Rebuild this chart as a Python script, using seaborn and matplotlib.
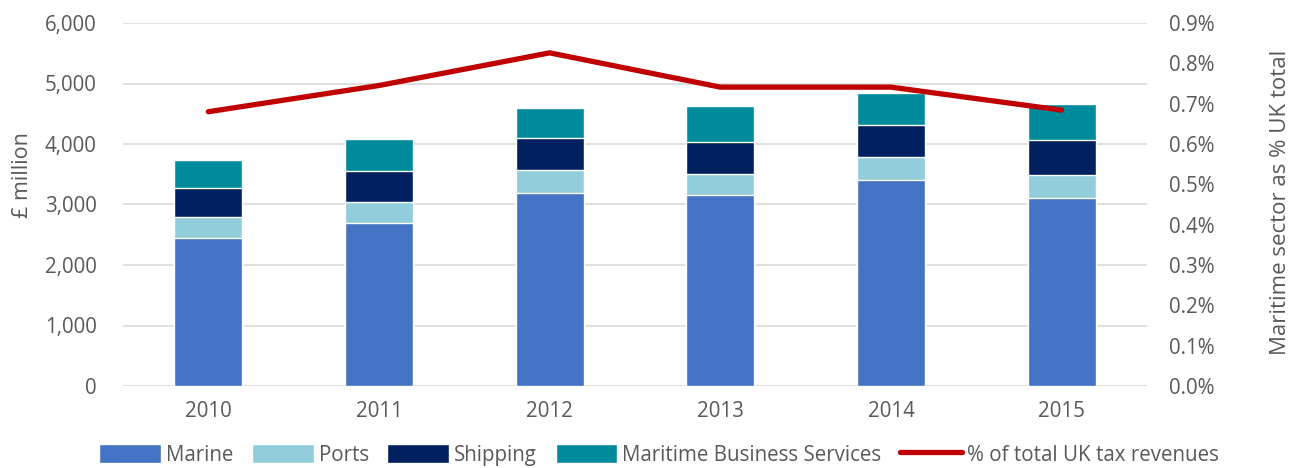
import numpy as np
import matplotlib
matplotlib.use('Agg')
import matplotlib.pyplot as plt
from matplotlib.patches import Patch
from matplotlib.lines import Line2D
from matplotlib.ticker import FuncFormatter, MultipleLocator
import pandas as pd
import seaborn as sns

years = ['2010', '2011', '2012', '2013', '2014', '2015']
marine = [2450, 2690, 3195, 3157, 3410, 3107]
ports = [350, 356, 370, 352, 380, 375]
shipping = [480, 508, 542, 529, 529, 589]
business = [453, 529, 488, 585, 524, 595]
pct_tax = [0.68, 0.745, 0.826, 0.741, 0.741, 0.684]

names = ['Marine', 'Ports', 'Shipping', 'Maritime Business Services']
colors = ['#4472C4', '#92CDDC', '#002060', '#008B9C']
line_color = '#C00000'
text_color = '#595959'
grid_color = '#D9D9D9'

sns.set_style('white')
plt.rcParams['font.family'] = ['Open Sans', 'DejaVu Sans']
plt.rcParams['text.color'] = text_color
plt.rcParams['axes.labelcolor'] = text_color
plt.rcParams['xtick.color'] = text_color
plt.rcParams['ytick.color'] = text_color

df = pd.DataFrame({'year': years, 'Marine': marine, 'Ports': ports,
                   'Shipping': shipping, 'Maritime Business Services': business})
cum = df[names].cumsum(axis=1)

fig = plt.figure(figsize=(12.97, 4.68), dpi=100)
ax = fig.add_axes([123 / 1297, 1 - 386 / 468, 1024 / 1297, 363 / 468])

# draw tallest cumulative first so each segment shows on top of the next
for name, col in reversed(list(zip(names, colors))):
    sns.barplot(x=df['year'], y=cum[name], color=col, width=0.4,
                saturation=1, ax=ax, zorder=2)

ax.set_ylim(0, 6000)
ax.set_xlim(-0.5, 5.5)
ax.yaxis.set_major_locator(MultipleLocator(1000))
ax.yaxis.set_major_formatter(FuncFormatter(lambda v, p: f'{v:,.0f}'))
ax.grid(axis='y', color=grid_color, linewidth=1.2, zorder=0)
ax.set_axisbelow(True)
for s in ax.spines.values():
    s.set_visible(False)
ax.tick_params(axis='y', length=0, pad=19, labelsize=14.8)
ax.tick_params(axis='x', length=0, pad=11, labelsize=14.8)
ax.set_xlabel('')
ax.set_ylabel('£ million', fontsize=15.5)
ax.yaxis.set_label_coords(-0.088, 0.58)

ax2 = ax.twinx()
sns.lineplot(x=np.arange(len(years)), y=pct_tax, color=line_color,
             linewidth=3.8, ax=ax2, solid_capstyle='round')
ax2.set_ylim(0, 0.9)
ax2.set_xlim(-0.5, 5.5)
ax2.yaxis.set_major_locator(MultipleLocator(0.1))
ax2.yaxis.set_major_formatter(FuncFormatter(lambda v, p: f'{v:.1f}%'))
for s in ax2.spines.values():
    s.set_visible(False)
ax2.tick_params(axis='y', length=0, pad=16, labelsize=14.8)
ax2.set_ylabel('Maritime sector as % UK total', fontsize=16)
ax2.yaxis.set_label_coords(1.12, 0.505)

handles = [Patch(facecolor=c, label=n) for n, c in zip(names, colors)]
handles.append(Line2D([0], [0], color=line_color, linewidth=3.8,
                      solid_capstyle='round', label='% of total UK tax revenues'))
fig.legend(handles=handles, loc='center', bbox_to_anchor=(659 / 1297, 1 - 455 / 468),
           ncol=5, frameon=False, fontsize=14.8, handlelength=3.0, handleheight=1.0,
           columnspacing=0.9, handletextpad=0.25, labelcolor=text_color,
           borderpad=0.2)

fig.savefig('out.png', dpi=100)
